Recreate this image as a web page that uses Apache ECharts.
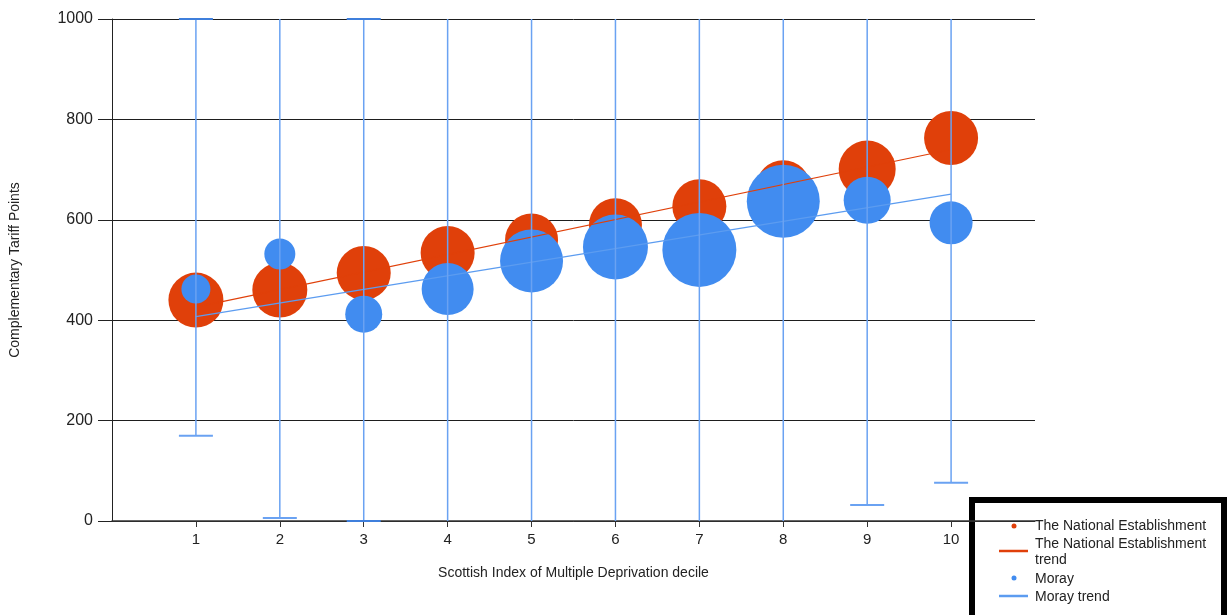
<!DOCTYPE html>
<html>
<head>
<meta charset="utf-8">
<title>Complementary Tariff Points by SIMD decile</title>
<script src="https://cdn.jsdelivr.net/npm/echarts@6/dist/echarts.min.js"></script>
<style>
  html, body { margin: 0; padding: 0; background: #ffffff; }
  #chart { width: 1232px; height: 615px; }
</style>
</head>
<body>
<div id="chart"></div>
<script>
// SIMD deciles on the x axis
const deciles = [1, 2, 3, 4, 5, 6, 7, 8, 9, 10];

// The National Establishment: average points and bubble weight per decile
const nationalValues = [440, 460, 494, 534, 560, 590, 627, 665, 701, 763];
const nationalSizes  = [55, 55, 54, 54, 53, 53, 54, 54, 57, 54];

// Moray: average points, bubble weight and the range shown by the whiskers
const morayValues = [462, 532, 412, 462, 518, 546, 540, 637, 639, 594];
const moraySizes  = [29, 31, 37, 52, 63, 65, 74, 73, 47, 43];
const morayLower  = [170, 6, 0, -90, -42, -34, -60, -23, 32, 76];
const morayUpper  = [1000, 1054, 1000, 1014, 1078, 1126, 1140, 1297, 1246, 1112];

// Trend lines, given at the first and last decile
const trendDeciles  = [1, 10];
const nationalTrend = [426, 740];
const morayTrend    = [407, 651];

// Axis ticks
const yTicks = [0, 200, 400, 600, 800, 1000];

const Y_MIN = yTicks[0];
const Y_MAX = yTicks[yTicks.length - 1];

const RED = '#E0400A';
const BLUE = '#418CF0';
const BLUE_TREND = '#5C9CF0';
const WHISKER = '#6AA2F2';
const FONT = '"Liberation Sans", Arial, sans-serif';
const LEGEND_FONT = '14px ' + FONT;

const chart = echarts.init(document.getElementById('chart'), null, { renderer: 'canvas' });

function whisker(params, api) {
  const x = api.value(0);
  const lo = api.value(1);
  const hi = api.value(2);
  const top = api.coord([x, Math.min(hi, Y_MAX)]);
  const bot = api.coord([x, Math.max(lo, Y_MIN)]);
  const half = 17;
  const style = { stroke: WHISKER, lineWidth: 1.5 };
  const children = [{
    type: 'line',
    shape: { x1: top[0], y1: top[1], x2: bot[0], y2: bot[1] },
    style: style
  }];
  if (hi <= Y_MAX) {
    children.push({ type: 'line', shape: { x1: top[0] - half, y1: top[1], x2: top[0] + half, y2: top[1] }, style: { stroke: '#3F7FDC', lineWidth: 2 } });
  }
  if (lo >= Y_MIN) {
    const capColor = lo === Y_MIN ? '#3F7FDC' : WHISKER;
    children.push({ type: 'line', shape: { x1: bot[0] - half, y1: bot[1], x2: bot[0] + half, y2: bot[1] }, style: { stroke: capColor, lineWidth: 2 } });
  }
  return { type: 'group', children: children };
}

const option = {
  animation: false,
  backgroundColor: '#ffffff',
  textStyle: { fontFamily: FONT },
  grid: { left: 112, right: 197, top: 19, bottom: 94, containLabel: false },
  xAxis: {
    type: 'value',
    min: 0,
    max: 11,
    interval: 1,
    name: 'Scottish Index of Multiple Deprivation decile',
    nameLocation: 'middle',
    nameGap: 45,
    nameTextStyle: { fontSize: 14, color: '#222', fontFamily: FONT },
    axisLine: { show: true, onZero: false, lineStyle: { color: '#333', width: 1.5 } },
    axisTick: { show: true, length: 6, customValues: deciles, lineStyle: { color: '#333' } },
    axisLabel: { customValues: deciles, fontSize: 15, color: '#222', margin: 11, fontFamily: FONT },
    splitLine: { show: false }
  },
  yAxis: {
    type: 'value',
    min: Y_MIN,
    max: Y_MAX,
    interval: 200,
    name: 'Complementary Tariff Points',
    nameLocation: 'middle',
    nameGap: 90,
    nameTextStyle: { fontSize: 14, color: '#222', fontFamily: FONT },
    axisLine: { show: true, lineStyle: { color: '#222', width: 1 } },
    axisTick: { show: true, length: 14, customValues: yTicks, lineStyle: { color: '#222' } },
    axisLabel: { customValues: yTicks, formatter: (v) => String(v), fontSize: 16, color: '#222', margin: 19, fontFamily: FONT },
    splitLine: { show: true, lineStyle: { color: '#1e1e1e', width: 1 } }
  },
  series: [
    {
      name: 'The National Establishment',
      type: 'scatter',
      z: 2,
      data: deciles.map((d, i) => [d, nationalValues[i]]),
      symbolSize: (v, p) => nationalSizes[p.dataIndex],
      itemStyle: { color: RED, opacity: 1 }
    },
    {
      name: 'Moray',
      type: 'scatter',
      z: 3,
      data: deciles.map((d, i) => [d, morayValues[i]]),
      symbolSize: (v, p) => moraySizes[p.dataIndex],
      itemStyle: { color: BLUE, opacity: 1 }
    },
    {
      name: 'The National Establishment trend',
      type: 'line',
      z: 4,
      data: trendDeciles.map((d, i) => [d, nationalTrend[i]]),
      showSymbol: false,
      lineStyle: { color: RED, width: 1.2 }
    },
    {
      name: 'Moray trend',
      type: 'line',
      z: 4,
      data: trendDeciles.map((d, i) => [d, morayTrend[i]]),
      showSymbol: false,
      lineStyle: { color: BLUE_TREND, width: 1.2 }
    },
    {
      name: 'Moray range',
      type: 'custom',
      z: 5,
      renderItem: whisker,
      encode: { x: 0, y: [1, 2] },
      data: deciles.map((d, i) => [d, morayLower[i], morayUpper[i]])
    }
  ],
  graphic: [
    {
      type: 'group',
      left: 969,
      top: 497,
      children: [
        { type: 'rect', shape: { x: 3, y: 3, width: 252, height: 140 }, style: { fill: '#ffffff', stroke: '#000000', lineWidth: 6 } },
        { type: 'circle', shape: { cx: 45, cy: 29, r: 2.5 }, style: { fill: RED } },
        { type: 'text', style: { x: 66, y: 29, text: 'The National Establishment', font: LEGEND_FONT, fill: '#222', verticalAlign: 'middle' } },
        { type: 'line', shape: { x1: 30, y1: 54, x2: 59, y2: 54 }, style: { stroke: RED, lineWidth: 2.5 } },
        { type: 'text', style: { x: 66, y: 47, text: 'The National Establishment', font: LEGEND_FONT, fill: '#222', verticalAlign: 'middle' } },
        { type: 'text', style: { x: 66, y: 63, text: 'trend', font: LEGEND_FONT, fill: '#222', verticalAlign: 'middle' } },
        { type: 'circle', shape: { cx: 45, cy: 81, r: 2.5 }, style: { fill: BLUE } },
        { type: 'text', style: { x: 66, y: 82, text: 'Moray', font: LEGEND_FONT, fill: '#222', verticalAlign: 'middle' } },
        { type: 'line', shape: { x1: 30, y1: 99, x2: 59, y2: 99 }, style: { stroke: BLUE_TREND, lineWidth: 2.5 } },
        { type: 'text', style: { x: 66, y: 100, text: 'Moray trend', font: LEGEND_FONT, fill: '#222', verticalAlign: 'middle' } }
      ]
    }
  ]
};

chart.setOption(option);
</script>
</body>
</html>
